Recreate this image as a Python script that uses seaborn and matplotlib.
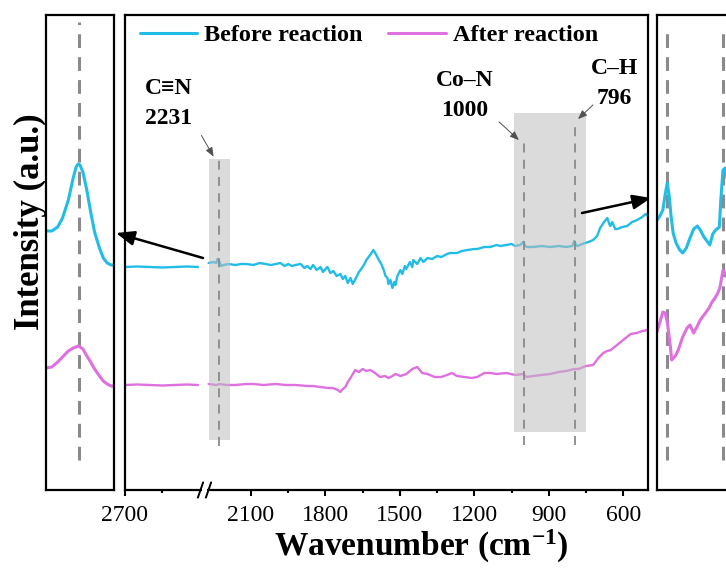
import numpy as np
import pandas as pd
import matplotlib
matplotlib.use('Agg')
import matplotlib.pyplot as plt
from matplotlib.patches import FancyArrowPatch
import seaborn as sns

# ---------------- data ----------------
wn_left = [2700, 2650, 2600, 2550, 2500, 2450, 2406]
before_left = [223, 223.5, 223, 222.5, 223, 223.5, 223]
after_left = [105, 105.5, 105, 104.5, 105, 105.5, 105]

wn_before = [2271, 2251, 2240, 2235, 2227, 2220, 2211, 2190, 2163, 2140,
             2120, 2090, 2065, 2042, 2020, 2000, 1981, 1965, 1950, 1935,
             1921, 1900, 1885, 1873, 1860, 1850, 1835, 1820, 1810, 1800,
             1792, 1780, 1768, 1755, 1740, 1730, 1720, 1710, 1699, 1690,
             1675, 1665, 1659, 1645, 1635, 1620, 1607, 1595, 1585, 1575,
             1565, 1558, 1550, 1546, 1538, 1530, 1522, 1518, 1510, 1498,
             1490, 1480, 1474, 1460, 1450, 1446, 1430, 1417, 1405, 1389,
             1370, 1350, 1333, 1310, 1297, 1270, 1250, 1228, 1200, 1188,
             1160, 1136, 1110, 1095, 1071, 1050, 1035, 1015, 1003, 995,
             987, 962, 930, 894, 860, 830, 805, 797, 790, 785,
             765, 740, 721, 705, 693, 677, 664, 656, 652, 644,
             632, 624, 604, 584, 564, 544, 523, 510, 500]
before = [227, 228, 227, 231, 228, 224, 225, 226, 225, 226,
          226, 225, 227, 226, 225, 226, 227, 224, 226, 224,
          225, 226, 222, 224, 221, 225, 220, 223, 218, 221,
          223, 217, 219, 214, 216, 211, 214, 207, 212, 206,
          213, 218, 220, 225, 230, 235, 240, 235, 230, 226,
          220, 214, 212, 206, 210, 202, 208, 205, 214, 220,
          216, 224, 221, 228, 223, 230, 226, 232, 228, 232,
          231, 234, 233, 236, 237, 237, 239, 240, 241, 241,
          243, 243, 245, 244, 245, 246, 244, 245, 248, 244,
          243, 243, 244, 243, 244, 243, 244, 249, 245, 244,
          246, 248, 250, 254, 262, 268, 272, 266, 264, 268,
          261, 261, 263, 264, 268, 270, 273, 276, 274]

wn_after = [2271, 2240, 2227, 2200, 2163, 2120, 2090, 2050, 2000, 1960,
            1921, 1873, 1850, 1820, 1792, 1770, 1750, 1740, 1730, 1720,
            1710, 1699, 1680, 1665, 1650, 1635, 1619, 1600, 1580, 1560,
            1546, 1530, 1518, 1498, 1474, 1450, 1430, 1410, 1389, 1360,
            1333, 1310, 1290, 1270, 1240, 1210, 1188, 1160, 1136, 1110,
            1071, 1035, 1003, 990, 962, 930, 894, 860, 830, 797,
            780, 750, 721, 700, 680, 664, 650, 630, 610, 590,
            570, 545, 523, 500]
after = [106, 105, 106, 105, 105, 106, 106, 105, 106, 105,
         105, 104, 104, 103, 102, 102, 100, 98, 101, 103,
         108, 112, 120, 118, 121, 119, 120, 117, 113, 114,
         112, 114, 116, 114, 116, 121, 123, 117, 116, 113,
         113, 115, 117, 114, 113, 112, 113, 117, 117, 116,
         117, 115, 116, 113, 114, 115, 116, 118, 119, 121,
         121, 124, 125, 132, 137, 139, 140, 144, 148, 152,
         156, 157, 159, 160]

# left inset (C≡N region)
wn_inset_l = [2265, 2259, 2253, 2248, 2242, 2237, 2234, 2232, 2230, 2227,
              2223, 2219, 2215, 2210, 2206, 2202, 2198, 2195]
before_inset_l = [259, 259, 263, 272, 290, 312, 323, 326, 325, 318,
                  300, 278, 258, 242, 232, 227, 225, 225]
after_inset_l = [122, 123, 128, 133, 139, 142, 143, 144, 143, 141,
                 134, 128, 121, 114, 109, 106, 104, 104]

# right inset
wn_inset_r_b = [500, 496, 492, 489, 486, 483, 481, 478, 474, 469,
                465, 460, 455, 450, 445, 441, 436, 432, 428, 424,
                420, 415, 413, 410, 407, 403, 398, 392]
before_inset_r = [270, 274, 280, 295, 307, 292, 275, 257, 247, 240,
                  237, 242, 252, 261, 264, 260, 253, 249, 245, 256,
                  260, 263, 290, 320, 322, 305, 290, 285]
wn_inset_r_a = [500, 496, 492, 489, 486, 482, 480, 475, 471, 465,
                459, 455, 450, 445, 441, 435, 429, 425, 421, 417,
                414, 410, 406, 400, 394]
after_inset_r = [158, 168, 178, 177, 168, 145, 130, 134, 140, 153,
                 162, 165, 157, 164, 170, 176, 182, 188, 192, 197,
                 203, 220, 215, 205, 200]

major_ticks = [2700, 2100, 1800, 1500, 1200, 900, 600]
tick_labels = ['2700', '2100', '1800', '1500', '1200', '900', '600']
minor_ticks = [2550, 1950, 1650, 1350, 1050, 750]

peaks = [2231, 1000, 796]
peak_names = ['C\u2261N', 'Co\u2013N', 'C\u2013H']
bands = [(2269, 2185), (1039, 749)]

series_names = ['Before reaction', 'After reaction']
colors = ['#22BDE6', '#DF70DF']

# ---------------- style ----------------
sns.set_theme(style='white')
plt.rcParams['font.family'] = ['Liberation Serif', 'DejaVu Serif']
plt.rcParams['text.color'] = 'black'
plt.rcParams['axes.labelcolor'] = 'black'
plt.rcParams['xtick.color'] = 'black'
plt.rcParams['mathtext.fontset'] = 'custom'
plt.rcParams['mathtext.rm'] = 'Liberation Serif:bold'
plt.rcParams['mathtext.bf'] = 'Liberation Serif:bold'
plt.rcParams['mathtext.default'] = 'bf'

W, H = 726, 568
fig = plt.figure(figsize=(W / 100, H / 100), dpi=100)

def fx(px):
    return px / W

def fy(py):
    return 1 - py / H

ax_bottom = fy(490)
ax_h = (490 - 15) / H
ax = fig.add_axes([fx(125), ax_bottom, (648 - 125) / W, ax_h])
ax_l = fig.add_axes([fx(46), ax_bottom, (114 - 46) / W, ax_h])
ax_r = fig.add_axes([fx(657), ax_bottom, (745 - 657) / W, ax_h])

# broken-axis scale (gap between 2285 and 2380 compressed)
LO, HI, S = 2285.0, 2380.0, 0.03

def fwd(x):
    x = np.asarray(x, dtype=float)
    return np.where(x <= LO, x, np.where(x >= HI, x - (HI - LO) * (1 - S), LO + (x - LO) * S))

def inv(u):
    u = np.asarray(u, dtype=float)
    uhi = LO + (HI - LO) * S
    return np.where(u <= LO, u, np.where(u >= uhi, u + (HI - LO) * (1 - S), LO + (u - LO) / S))

lw_main = 1.7
df_b = pd.DataFrame({'wn': wn_before, 'I': before})
df_a = pd.DataFrame({'wn': wn_after, 'I': after})
df_bl = pd.DataFrame({'wn': wn_left, 'I': before_left})
df_al = pd.DataFrame({'wn': wn_left, 'I': after_left})

sns.lineplot(data=df_b, x='wn', y='I', ax=ax, color=colors[0], lw=lw_main,
             sort=False, estimator=None, label=series_names[0], zorder=2)
sns.lineplot(data=df_a, x='wn', y='I', ax=ax, color=colors[1], lw=lw_main,
             sort=False, estimator=None, label=series_names[1], zorder=2)
sns.lineplot(data=df_bl, x='wn', y='I', ax=ax, color=colors[0], lw=lw_main,
             sort=False, estimator=None, legend=False, zorder=2)
sns.lineplot(data=df_al, x='wn', y='I', ax=ax, color=colors[1], lw=lw_main,
             sort=False, estimator=None, legend=False, zorder=2)

ax.set_xscale('function', functions=(fwd, inv))
ax.set_xlim(2700, 500)
ax.set_ylim(0, 475)

# shaded bands
band_y = [(50, 331), (58, 377)]
for (b0, b1), (y0, y1) in zip(bands, band_y):
    ax.fill_between([b0, b1], [y0, y0], [y1, y1], color='#BEBEBE', alpha=0.55,
                    lw=0, zorder=3)

# dashed peak lines
peak_y = [(44, 330), (45, 347), (45, 368)]
for p, (y0, y1) in zip(peaks, peak_y):
    ax.plot([p, p], [y0, y1], color='#8A8A8A', lw=1.3, ls=(0, (5, 4)), zorder=4)

ax.set_xticks(major_ticks)
ax.set_xticklabels(tick_labels)
ax.set_xticks(minor_ticks, minor=True)
ax.set_yticks([])
ax.tick_params(axis='x', which='major', direction='out', length=4.5, width=1.5,
               labelsize=17, pad=6, bottom=True, colors='black')
ax.tick_params(axis='x', which='minor', direction='out', length=2.5, width=1.5,
               bottom=True, colors='black')
ax.set_xlabel('Wavenumber (cm$^{-1}$)', fontsize=24, fontweight='bold', color='black')
ax.xaxis.set_label_coords((421 - 125) / 523, (490 - 546) / 475)
ax.xaxis.label.set_va('center')
ax.set_ylabel('Intensity (a.u.)', fontsize=25, fontweight='bold', color='black')
ax.yaxis.set_label_coords((30 - 125) / 523, (490 - 222) / 475)
ax.yaxis.label.set_va('center')
for sp in ax.spines.values():
    sp.set_linewidth(1.6)
    sp.set_color('black')

# break marks on bottom axis
bx1, bx2 = (200.5 - 125) / 523, (208.5 - 125) / 523
ax.plot([bx1 + 0.002, bx2 - 0.002], [0, 0], transform=ax.transAxes, color='white',
        lw=3, clip_on=False, zorder=10, solid_capstyle='butt')
for bx in (bx1, bx2):
    ax.plot([bx - 0.005, bx + 0.005], [-0.016, 0.016], transform=ax.transAxes,
            color='black', lw=1.4, clip_on=False, zorder=11)

leg = ax.legend(loc='center left', bbox_to_anchor=((140 - 125) / 523, (490 - 35) / 475),
                ncol=2, frameon=False, handlelength=2.35, handletextpad=0.3,
                columnspacing=1.05, borderpad=0, borderaxespad=0,
                prop={'weight': 'bold', 'size': 17.5})
for ln in leg.get_lines():
    ln.set_linewidth(2.2)
for t in leg.get_texts():
    t.set_color('black')

# ---------------- insets ----------------
lw_in = 2.2
sns.lineplot(x=wn_inset_l, y=before_inset_l, ax=ax_l, color=colors[0], lw=lw_in,
             sort=False, estimator=None, legend=False)
sns.lineplot(x=wn_inset_l, y=after_inset_l, ax=ax_l, color=colors[1], lw=lw_in,
             sort=False, estimator=None, legend=False)
ax_l.plot([peaks[0], peaks[0]], [30, 468], color='#8A8A8A', lw=2.2,
          ls=(0, (4.5, 3)), zorder=1)
ax_l.set_xlim(2265, 2195)
ax_l.set_ylim(0, 475)

inset_r_peaks = [486, 410]
sns.lineplot(x=wn_inset_r_b, y=before_inset_r, ax=ax_r, color=colors[0], lw=lw_in,
             sort=False, estimator=None, legend=False)
sns.lineplot(x=wn_inset_r_a, y=after_inset_r, ax=ax_r, color=colors[1], lw=lw_in,
             sort=False, estimator=None, legend=False)
for p in inset_r_peaks:
    ax_r.plot([p, p], [30, 463], color='#8A8A8A', lw=2.2, ls=(0, (4.5, 3)), zorder=1)
ax_r.set_xlim(500, 380)
ax_r.set_ylim(0, 475)

for a in (ax_l, ax_r):
    a.set_xticks([])
    a.set_yticks([])
    a.set_xlabel('')
    a.set_ylabel('')
    for sp in a.spines.values():
        sp.set_linewidth(1.6)
        sp.set_color('black')

# ---------------- annotations ----------------
txt_kw = dict(fontsize=17, fontweight='bold', ha='center', va='center', color='black')
label_pos = [(169, 88, 118), (465, 80, 110), (614, 68, 98)]
for name, p, (x, y1, y2) in zip(peak_names, peaks, label_pos):
    fig.text(fx(x), fy(y1), name, **txt_kw)
    fig.text(fx(x), fy(y2), str(p), **txt_kw)

small_arrows = [((200, 133), (215, 159)), ((497, 120), (521, 142)), ((595, 103), (576, 121))]
for (x0, y0), (x1, y1) in small_arrows:
    fig.add_artist(FancyArrowPatch((fx(x0), fy(y0)), (fx(x1), fy(y1)),
                                   transform=fig.transFigure,
                                   arrowstyle='-|>,head_length=0.45,head_width=0.18',
                                   mutation_scale=12, lw=0.7, color='#505050'))

big_arrows = [((203, 258), (116, 233)), ((582, 213), (651, 198))]
for (x0, y0), (x1, y1) in big_arrows:
    fig.add_artist(FancyArrowPatch((fx(x0), fy(y0)), (fx(x1), fy(y1)),
                                   transform=fig.transFigure,
                                   arrowstyle='-|>,head_length=0.55,head_width=0.22',
                                   mutation_scale=20, lw=1.8, color='black',
                                   shrinkA=0, shrinkB=0))

fig.savefig('out.png', dpi=100)
